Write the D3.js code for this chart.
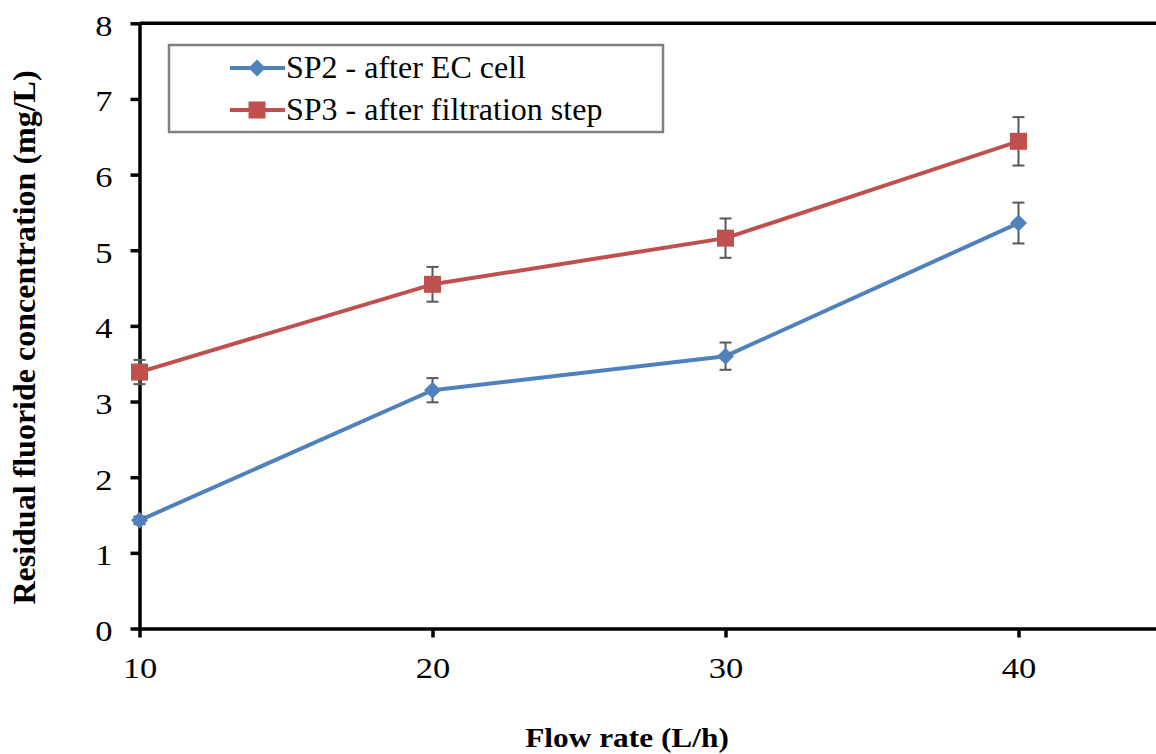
<!DOCTYPE html>
<html><head><meta charset="utf-8">
<script src="https://cdn.jsdelivr.net/npm/d3@7"></script>
<style>html,body{margin:0;padding:0;background:#fff;}svg{display:block;}</style>
</head><body><svg id="c" width="1156" height="754"></svg>
<script>
const flowRates = [10, 20, 30, 40];
const sp2Values = [1.43, 3.15, 3.60, 5.36];
const sp2Errors = [0.05, 0.16, 0.18, 0.27];
const sp3Values = [3.39, 4.55, 5.16, 6.44];
const sp3Errors = [0.16, 0.23, 0.26, 0.32];
const yTicks = [0, 1, 2, 3, 4, 5, 6, 7, 8];
const xTicks = [10, 20, 30, 40];
const seriesNames = ["SP2 - after EC cell", "SP3 - after filtration step"];

const svg = d3.select("#c");
const x = d3.scaleLinear().domain([10, 45]).range([139.5, 1165]);
const y = d3.scaleLinear().domain([0, 8]).range([628.5, 23.3]);
const font = "'Liberation Serif','Times New Roman',serif";

const series = [
  {name: seriesNames[0], vals: sp2Values, errs: sp2Errors, color: "#4F81BD", shape: "diamond"},
  {name: seriesNames[1], vals: sp3Values, errs: sp3Errors, color: "#C0504D", shape: "square"}
];

// frame top and right
svg.append("line").attr("x1", x(10)).attr("x2", x(45)).attr("y1", y(8)).attr("y2", y(8))
  .attr("stroke", "#000").attr("stroke-width", 3.5);
svg.append("line").attr("x1", x(45)).attr("x2", x(45)).attr("y1", y(8)).attr("y2", y(0))
  .attr("stroke", "#000").attr("stroke-width", 3.5);

// axes
const yAxis = svg.append("g").attr("transform", `translate(${x(10)},0)`)
  .call(d3.axisLeft(y).tickValues(yTicks).tickSize(9).tickSizeOuter(0).tickPadding(18).tickFormat(d3.format("d")));
const xAxis = svg.append("g").attr("transform", `translate(0,${y(0)})`)
  .call(d3.axisBottom(x).tickValues(xTicks).tickSize(9).tickSizeOuter(0).tickPadding(19).tickFormat(d3.format("d")));
[yAxis, xAxis].forEach(g => {
  g.attr("font-family", font);
  g.select(".domain").attr("stroke", "#000").attr("stroke-width", 3.5);
  g.selectAll(".tick line").attr("stroke", "#000").attr("stroke-width", 3.5);
  g.selectAll("text").attr("font-family", font).attr("font-size", 30).attr("fill", "#000")
    .each(function() {
      const t = d3.select(this), tx = +t.attr("x") || 0;
      t.attr("transform", `translate(${tx},0) scale(1.15,1) translate(${-tx},0)`);
    });
});
yAxis.selectAll("text").attr("dy", "0.4em");

// axis titles
svg.append("text").attr("transform", "translate(627,747) scale(1.12,1)").attr("text-anchor", "middle")
  .attr("font-family", font).attr("font-weight", "bold").attr("font-size", 28).text("Flow rate (L/h)");
svg.append("text").attr("transform", "translate(35,337.5) rotate(-90)").attr("text-anchor", "middle")
  .attr("font-family", font).attr("font-weight", "bold").attr("font-size", 32)
  .text("Residual fluoride concentration (mg/L)");

const line = d3.line().x(d => x(d[0])).y(d => y(d[1]));
function drawMarker(g, shape, cx, cy, color) {
  if (shape === "diamond") {
    const s = 8.5;
    g.append("path").attr("d", `M${cx},${cy - s}L${cx + s},${cy}L${cx},${cy + s}L${cx - s},${cy}Z`).attr("fill", color);
  } else {
    g.append("rect").attr("x", cx - 8.5).attr("y", cy - 8.5).attr("width", 17).attr("height", 17).attr("fill", color);
  }
}

series.forEach(s => {
  const pts = flowRates.map((f, i) => [f, s.vals[i]]);
  svg.append("path").datum(pts).attr("d", line).attr("fill", "none")
    .attr("stroke", s.color).attr("stroke-width", 4).attr("stroke-linejoin", "round");
  const g = svg.append("g");
  pts.forEach((p, i) => {
    const e = s.errs[i], cx = x(p[0]);
    g.append("line").attr("x1", cx).attr("x2", cx).attr("y1", y(p[1] + e)).attr("y2", y(p[1] - e))
      .attr("stroke", "#595959").attr("stroke-width", 2);
    [p[1] + e, p[1] - e].forEach(v => g.append("line").attr("x1", cx - 6).attr("x2", cx + 6)
      .attr("y1", y(v)).attr("y2", y(v)).attr("stroke", "#595959").attr("stroke-width", 2));
  });
  pts.forEach(p => drawMarker(g, s.shape, x(p[0]), y(p[1]), s.color));
});

// legend
const lg = svg.append("g");
lg.append("rect").attr("x", 169).attr("y", 45).attr("width", 494).attr("height", 87)
  .attr("fill", "#fff").attr("stroke", "#808080").attr("stroke-width", 2.5);
series.forEach((s, i) => {
  const ly = 68 + i * 42;
  lg.append("line").attr("x1", 230).attr("x2", 285).attr("y1", ly).attr("y2", ly)
    .attr("stroke", s.color).attr("stroke-width", 4);
  drawMarker(lg, s.shape, 257, ly, s.color);
  lg.append("text").attr("x", 286).attr("y", ly + 9.5).attr("font-family", font).attr("font-size", 32)
    .text(s.name);
});
</script></body></html>
